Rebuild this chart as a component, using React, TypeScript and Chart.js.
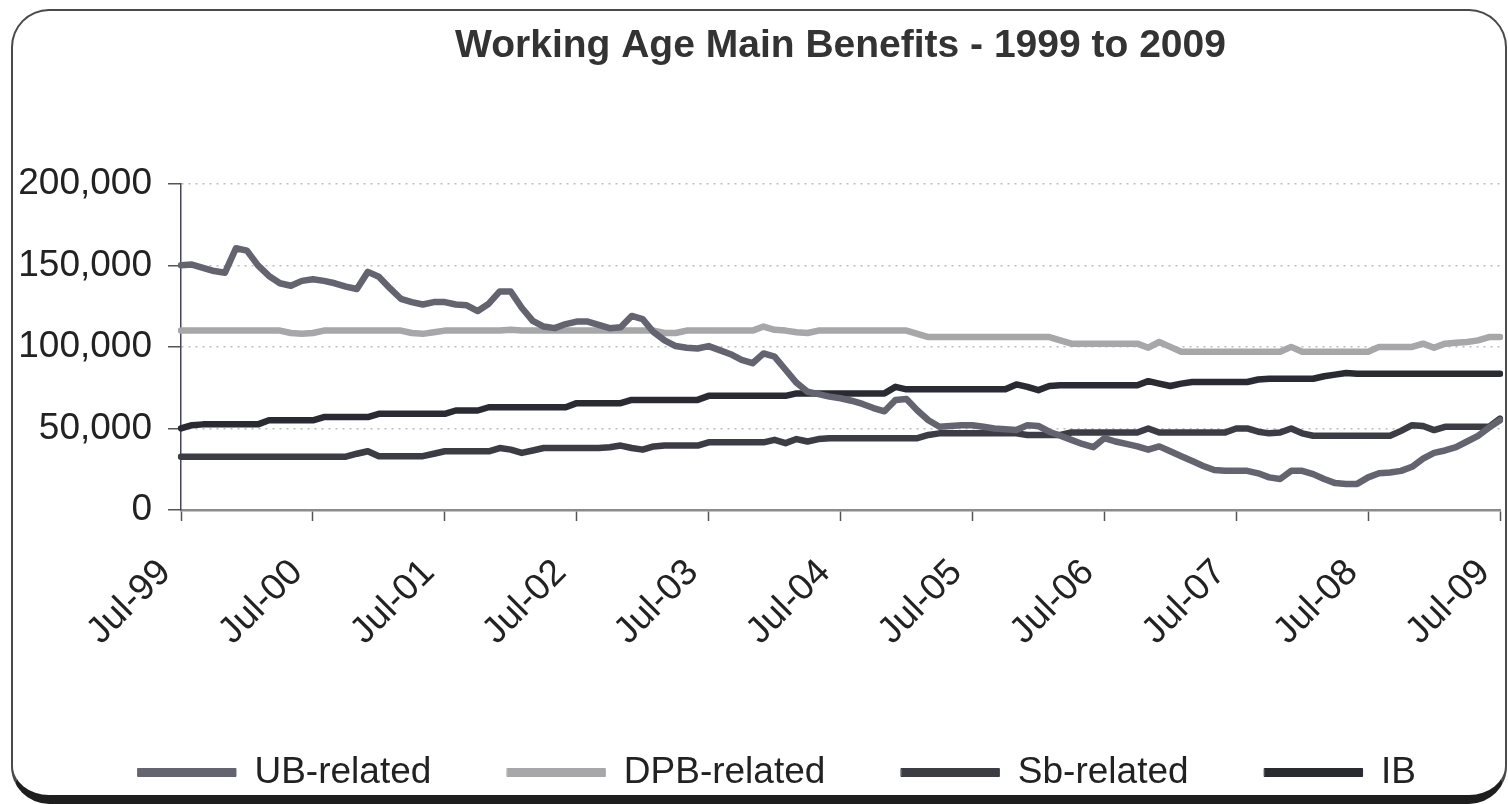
import { useEffect, useRef } from 'react';
import { Chart, registerables } from 'chart.js';

Chart.register(...registerables);

const TITLE = 'Working Age Main Benefits - 1999 to 2009';
const MONTHS = ['Jul', 'Aug', 'Sep', 'Oct', 'Nov', 'Dec', 'Jan', 'Feb', 'Mar', 'Apr', 'May', 'Jun'];
const FIRST_YEAR = 1999;
const MONTH_COUNT = 121;

const CATEGORIES: string[] = [];
for (let i = 0; i < MONTH_COUNT; i++) {
  const year = FIRST_YEAR + Math.floor((i + 6) / 12);
  CATEGORIES.push(`${MONTHS[i % 12]}-${String(year % 100).padStart(2, '0')}`);
}

const SERIES_NAMES = ['UB-related', 'DPB-related', 'Sb-related', 'IB'];
const SERIES_COLORS = ['#646470', '#a7a7aa', '#3c3c45', '#2a2a33'];

const UB_RELATED = [
  150000, 150500, 148500, 146500, 145500, 160500, 159000, 150000, 143500, 139000, 137500, 140500,
  141500, 140500, 139000, 137000, 135500, 146000, 143000, 136000, 129500, 127500, 126000, 127500,
  127500, 126000, 125500, 122000, 126500, 134000, 134000, 124000, 116000, 112500, 111500, 114000,
  115500, 115500, 113500, 111500, 112000, 119000, 117000, 109000, 104000, 100500, 99500, 99000,
  100500, 98000, 95500, 92000, 90000, 96000, 94000, 86000, 78000, 72500, 71000, 69500,
  68500, 67000, 65000, 62500, 60500, 67500, 68000, 61000, 55000, 51000, 51500, 52000,
  52000, 51000, 50000, 49500, 49000, 52000, 51500, 48000, 45500, 43000, 40500, 38500,
  44000, 42000, 40500, 39000, 37000, 39000, 36000, 33000, 30000, 27000, 24500, 24000,
  24000, 24000, 22500, 20000, 19000, 24000, 24000, 22000, 19000, 16500, 16000, 16000,
  20000, 22500, 23000, 24000, 26500, 31500, 35000, 36500, 38500, 42000, 45500, 50500,
  55000,
];

const DPB_RELATED = [
  110000, 110000, 110000, 110000, 110000, 110000, 110000, 110000, 110000, 110000, 108500, 108000,
  108500, 110000, 110000, 110000, 110000, 110000, 110000, 110000, 110000, 108500, 108000, 109000,
  110000, 110000, 110000, 110000, 110000, 110000, 110500, 110000, 110000, 110000, 110000, 110000,
  110000, 110000, 110000, 110000, 110000, 110000, 110000, 110000, 108500, 108500, 110000, 110000,
  110000, 110000, 110000, 110000, 110000, 112500, 110500, 110000, 109000, 108500, 110000, 110000,
  110000, 110000, 110000, 110000, 110000, 110000, 110000, 108000, 106000, 106000, 106000, 106000,
  106000, 106000, 106000, 106000, 106000, 106000, 106000, 106000, 104000, 102000, 102000, 102000,
  102000, 102000, 102000, 102000, 99500, 103000, 100000, 97000, 97000, 97000, 97000, 97000,
  97000, 97000, 97000, 97000, 97000, 100000, 97000, 97000, 97000, 97000, 97000, 97000,
  97000, 100000, 100000, 100000, 100000, 102000, 99500, 102000, 102500, 103000, 104000, 106000,
  106000,
];

const SB_RELATED = [
  32700, 32700, 32700, 32700, 32700, 32700, 32700, 32700, 32700, 32700, 32700, 32700,
  32700, 32700, 32700, 32700, 34500, 36000, 33000, 33000, 33000, 33000, 33000, 34500,
  36000, 36000, 36000, 36000, 36000, 38000, 37000, 35000, 36500, 38000, 38000, 38000,
  38000, 38000, 38000, 38500, 39500, 38000, 37000, 39000, 39500, 39500, 39500, 39500,
  41500, 41500, 41500, 41500, 41500, 41500, 43000, 41000, 43500, 42000, 43500, 44000,
  44000, 44000, 44000, 44000, 44000, 44000, 44000, 44000, 46000, 47000, 47000, 47000,
  47000, 47000, 47000, 47000, 47000, 46000, 46000, 46000, 46000, 47500, 47500, 47500,
  47500, 47500, 47500, 47500, 50000, 47500, 47500, 47500, 47500, 47500, 47500, 47500,
  50000, 50000, 48000, 47000, 47500, 50000, 47000, 45500, 45500, 45500, 45500, 45500,
  45500, 45500, 45500, 48500, 52000, 51500, 49000, 51000, 51000, 51000, 51000, 51000,
  56000,
];

const IB = [
  50000, 52000, 52500, 52500, 52500, 52500, 52500, 52500, 55000, 55000, 55000, 55000,
  55000, 57000, 57000, 57000, 57000, 57000, 59000, 59000, 59000, 59000, 59000, 59000,
  59000, 61000, 61000, 61000, 63000, 63000, 63000, 63000, 63000, 63000, 63000, 63000,
  65500, 65500, 65500, 65500, 65500, 67500, 67500, 67500, 67500, 67500, 67500, 67500,
  70000, 70000, 70000, 70000, 70000, 70000, 70000, 70000, 71500, 71500, 71500, 71500,
  71500, 71500, 71500, 71500, 71500, 75500, 74000, 74000, 74000, 74000, 74000, 74000,
  74000, 74000, 74000, 74000, 77000, 75500, 73500, 76000, 76500, 76500, 76500, 76500,
  76500, 76500, 76500, 76500, 79000, 77500, 76000, 77500, 78500, 78500, 78500, 78500,
  78500, 78500, 80000, 80500, 80500, 80500, 80500, 80500, 82000, 83000, 84000, 83500,
  83500, 83500, 83500, 83500, 83500, 83500, 83500, 83500, 83500, 83500, 83500, 83500,
  83500,
];

const Y_MIN = 0;
const Y_MAX = 200000;
const Y_STEP = 50000;

const FONT = '"Liberation Sans", Arial, Helvetica, sans-serif';

// lets the y tick labels extend left of the axis box instead of being clipped at it
const unclipYLabels = {
  id: 'unclipYLabels',
  afterLayout(chart: any) {
    const y = chart.scales.y;
    if (y) y.left = 0;
  },
};

export default function App() {
  const canvasRef = useRef<HTMLCanvasElement | null>(null);

  useEffect(() => {
    if (!canvasRef.current) return;
    const values = [UB_RELATED, DPB_RELATED, SB_RELATED, IB];
    const chart = new Chart(canvasRef.current, {
      type: 'line',
      data: {
        labels: CATEGORIES,
        datasets: SERIES_NAMES.map((name, i) => ({
          label: name,
          data: values[i],
          borderColor: SERIES_COLORS[i],
          backgroundColor: SERIES_COLORS[i],
          borderWidth: 6.5,
          pointRadius: 0,
          pointHoverRadius: 0,
          tension: 0,
          fill: false,
          borderJoinStyle: 'round',
          borderCapStyle: 'round',
        })),
      },
      plugins: [unclipYLabels],
      options: {
        responsive: false,
        animation: false,
        devicePixelRatio: 1,
        layout: { padding: { left: 54, right: 8, top: 0, bottom: 3 } },
        plugins: {
          title: {
            display: true,
            text: TITLE,
            fullSize: false,
            color: '#333',
            font: { family: FONT, size: 39, weight: 'bold' },
            padding: { top: 23, bottom: 114 },
          },
          legend: {
            position: 'bottom',
            align: 'center',
            labels: {
              boxWidth: 98,
              boxHeight: 8,
              padding: 76,
              color: '#222',
              font: { family: FONT, size: 37 },
              generateLabels: (c: any) =>
                Chart.defaults.plugins.legend.labels.generateLabels(c).map((l: any) => ({ ...l, lineWidth: 1 })),
            },
          },
          tooltip: { enabled: false },
        },
        scales: {
          x: {
            type: 'category',
            offset: false,
            grid: {
              display: true,
              drawOnChartArea: false,
              drawTicks: true,
              tickLength: 11,
              tickColor: '#555',
              tickWidth: 1.5,
            },
            border: { display: true, color: '#8c8c8c', width: 2.5 },
            ticks: {
              autoSkip: false,
              maxRotation: 45,
              minRotation: 45,
              padding: 30,
              labelOffset: -16,
              color: '#222',
              font: { family: FONT, size: 37 },
              callback: (_v: any, idx: number) => (idx % 12 === 0 ? CATEGORIES[idx] : null),
            },
            afterFit: (s: any) => {
              s.height = 168;
              s.paddingLeft = 0;
              s.paddingRight = 0;
            },
          },
          y: {
            min: Y_MIN,
            max: Y_MAX,
            grid: {
              color: '#bdbdbd',
              lineWidth: 1.5,
              drawTicks: true,
              tickLength: 13,
              tickColor: '#555',
              tickWidth: 1.5,
              tickBorderDash: [],
            },
            border: { display: true, color: '#45455a', width: 1.5, dash: [2, 5] },
            ticks: {
              stepSize: Y_STEP,
              padding: 16,
              color: '#222',
              font: { family: FONT, size: 37 },
              callback: (v: any) => Number(v).toLocaleString('en-US'),
            },
            afterFit: (s: any) => {
              s.width = 127;
            },
          },
        },
      },
    });
    return () => chart.destroy();
  }, []);

  return (
    <div style={{ position: 'absolute', left: 0, top: 0, width: 1508, height: 804, background: '#fff', overflow: 'hidden' }}>
      <canvas ref={canvasRef} width={1508} height={804} style={{ position: 'absolute', left: 0, top: 0 }} />
      <div
        style={{
          position: 'absolute',
          left: 11,
          top: 9,
          width: 1496,
          height: 795,
          boxSizing: 'border-box',
          border: '2px solid #4a4a4a',
          borderBottom: '9px solid #1e1e1e',
          borderRadius: 38,
          pointerEvents: 'none',
        }}
      />
    </div>
  );
}
